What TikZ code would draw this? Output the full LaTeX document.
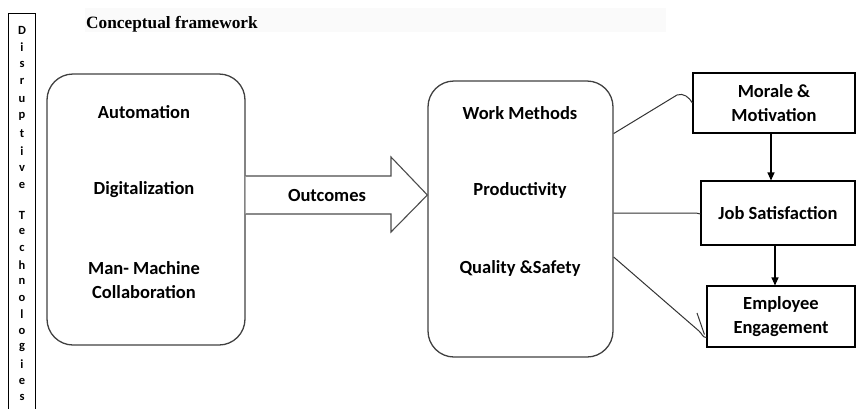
\documentclass[tikz,border=0pt]{standalone}
\usepackage{fontspec}
\setmainfont{Carlito}
\newfontfamily\titlefont{Liberation Serif}
\usetikzlibrary{arrows.meta,positioning,calc}

\begin{document}
\begin{tikzpicture}[x=1pt, y=-1pt,
            every node/.style={font=\bfseries\fontsize{18.5}{24}\selectfont, align=center, inner sep=0pt},
            roundbox/.style={draw=black!75, line width=1.3pt, rounded corners=26pt},
            factor/.style={draw, line width=1.1pt},
            letter/.style={font=\bfseries\fontsize{12.5}{14}\selectfont},
            link/.style={draw=black!80, line width=1pt},
            flow/.style={draw, line width=1.1pt, -{Triangle[length=8pt,width=7pt]}}]
        \useasboundingbox (0,0) rectangle (857,408);

        % title bar
        \node[fill=black!2, minimum width=581pt, minimum height=24pt, anchor=north west] (bar) at (85,8) {};
        \node[anchor=base west, font=\titlefont\bfseries\fontsize{17.3}{20}\selectfont] (title) at (86,28) {Conceptual framework};

        % side strip
        \draw[line width=1pt] (8,410) -- (8,13) -- (35,13) -- (35,410);
        \foreach \c [count=\i] in {D,i,s,r,u,p,t,i,v,e}
            \node[letter] (d\i) at (22,{30+17.3*(\i-1)}) {\c};
        \foreach \c [count=\i] in {T,e,c,h,n,o,l,o,g,i,e,s}
            \node[letter] (t\i) at (22,{215+16.6*(\i-1)}) {\c};

        % technologies
        \node[roundbox, minimum width=198pt, minimum height=271pt] (tech) at (146,209.5) {};
        \node (auto) at (144,112) {Automation};
        \node (digi) at (144,190) {Digitalization};
        \node (mmc) at (144,280) {Man- Machine\\Collaboration};

        % outcomes box
        \node[roundbox, minimum width=185pt, minimum height=276pt] (mid) at (520.5,219) {};
        \node (wm) at (520,113) {Work Methods};
        \node (prod) at (520,190) {Productivity};
        \node (qs) at (520,268) {Quality \&Safety};

        % outcomes arrow
        \draw[draw=black!70, line width=1.1pt, fill=white] (tech.east |- 0,176) -- (391,176) -- (391,157)
            -- (mid.west |- 0,195) -- (391,232) -- (391,214) -- (tech.east |- 0,214);
        \node (out) at (327,195) {Outcomes};

        % employee side
        \node[factor, minimum width=162pt, minimum height=60pt] (morale) at (774,103) {Morale \&\\Motivation};
        \node[factor, minimum width=154pt, minimum height=64pt] (job) at (778,213) {Job Satisfaction};
        \node[factor, minimum width=148pt, minimum height=61pt] (emp) at (781,316.5) {Employee\\Engagement};

        \draw[flow] (morale.south -| 771,0) -- (job.north -| 771,0);
        \draw[flow] (job.south -| 775,0) -- (emp.north -| 775,0);

        \draw[link] (mid.east |- morale.south) -- (677,95) to[out=20,in=120] (morale.west);
        \draw[link] (mid.east |- job.west) -- ($(job.west)+(-8,0)$) to[out=0,in=160] ($(job.west)+(0,1)$);
        \draw[link] ($(mid.east)+(0,38)$) -- (699,331) to[out=-40,in=180] ($(emp.south west)+(0,-10)$);
        \draw[link] (697,313) -- ($(emp.south west)+(-2,-13)$);
\end{tikzpicture}
\end{document}
